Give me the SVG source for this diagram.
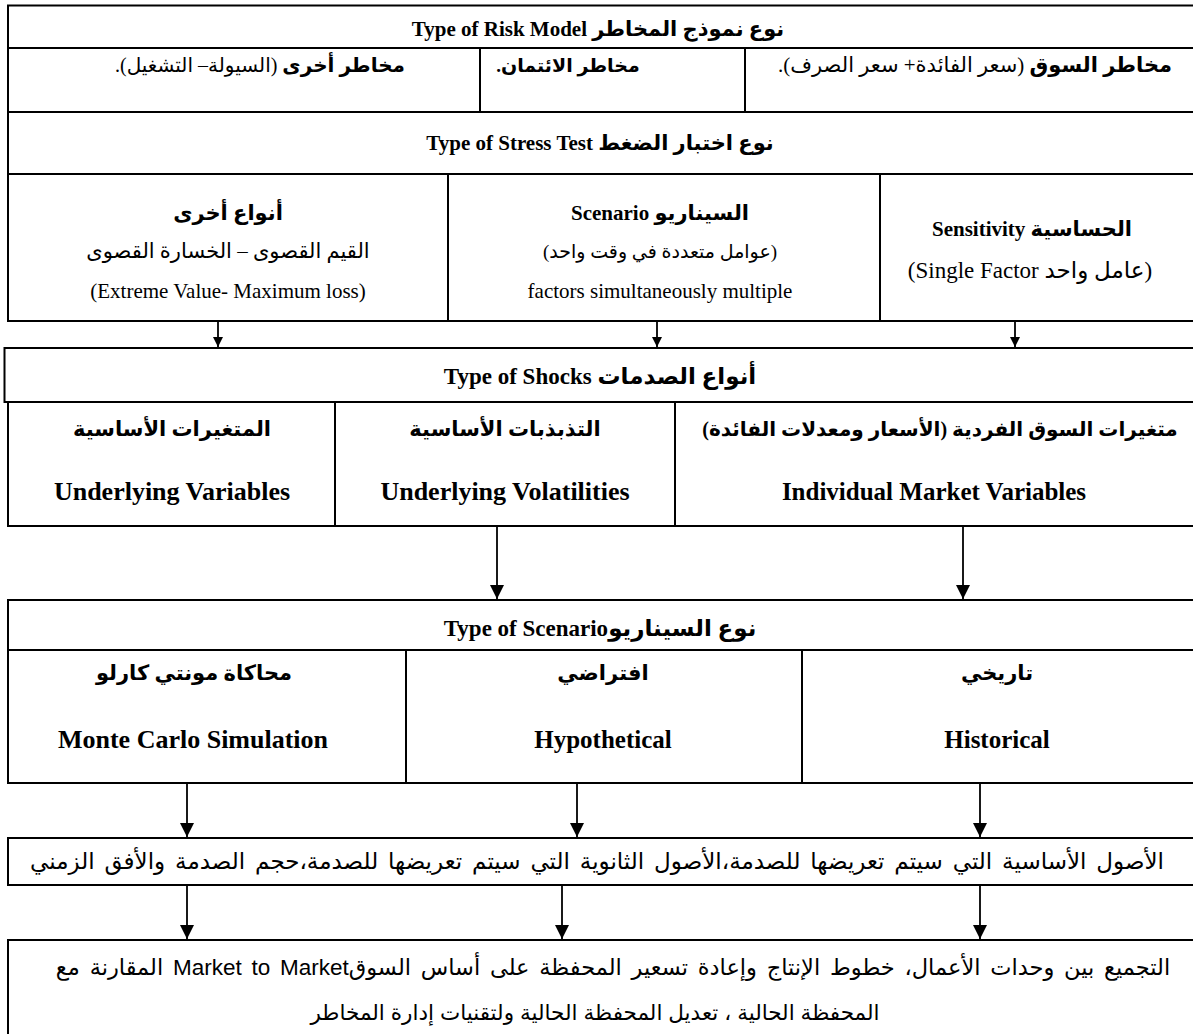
<svg xmlns="http://www.w3.org/2000/svg" width="1193" height="1034" viewBox="0 0 1193 1034">
<style>
.box{fill:#fff;stroke:#000;stroke-width:2}
.ln{stroke:#000;stroke-width:2;fill:none}
.con{stroke:#000;stroke-width:1.8;fill:none}
.sb{font-family:"Liberation Serif","DejaVu Sans",serif;font-weight:bold;fill:#000}
.sr{font-family:"Liberation Serif","DejaVu Sans",serif;font-weight:normal;fill:#000}
.ss{font-family:"Liberation Sans","DejaVu Sans",sans-serif;font-weight:normal;fill:#000}
.rtl{direction:rtl;unicode-bidi:embed}
</style>
<defs>
<marker id="ahS" viewBox="0 0 10 10" refX="10" refY="5" markerWidth="12" markerHeight="10" markerUnits="userSpaceOnUse" orient="auto"><path d="M0,0 L10,5 L0,10 z" fill="#000"/></marker>
<marker id="ahL" viewBox="0 0 10 10" refX="10" refY="5" markerWidth="16" markerHeight="14" markerUnits="userSpaceOnUse" orient="auto"><path d="M0,0 L10,5 L0,10 z" fill="#000"/></marker>
</defs>

<g id="risk-model">
<rect class="box" x="8" y="5.5" width="1200" height="315.5"/>
<line class="ln" x1="8" y1="48" x2="1193" y2="48"/>
<line class="ln" x1="8" y1="112" x2="1193" y2="112"/>
<line class="ln" x1="480" y1="48" x2="480" y2="112"/>
<line class="ln" x1="745" y1="48" x2="745" y2="112"/>
<text class="sb rtl" x="598" y="36" font-size="21" text-anchor="middle">نوع نموذج المخاطر  Type of Risk Model</text>
<text class="sr rtl" x="260" y="72" font-size="20" text-anchor="middle"><tspan class="sb">مخاطر أخرى</tspan> (السيولة– التشغيل).</text>
<text class="sb rtl" x="568" y="72" font-size="19" text-anchor="middle">مخاطر الائتمان.</text>
<text class="sr rtl" x="975" y="72" font-size="21" text-anchor="middle"><tspan class="sb">مخاطر السوق</tspan> (سعر الفائدة+ سعر الصرف).</text>
</g>

<g id="stress-test">
<line class="ln" x1="8" y1="174" x2="1193" y2="174"/>
<line class="ln" x1="448" y1="174" x2="448" y2="321"/>
<line class="ln" x1="880" y1="174" x2="880" y2="321"/>
<text class="sb rtl" x="600" y="150" font-size="21" text-anchor="middle">نوع اختبار الضغط Type of Stress Test</text>
<g id="stress-other">
<text class="sb rtl" x="228" y="220" font-size="21" text-anchor="middle">أنواع أخرى</text>
<text class="sr rtl" x="228" y="258" font-size="21" text-anchor="middle">القيم القصوى – الخسارة القصوى</text>
<text class="sr" x="228" y="298" font-size="21" text-anchor="middle">(Extreme Value- Maximum loss)</text>
</g>
<g id="stress-scenario">
<text class="sb rtl" x="660" y="220" font-size="21" text-anchor="middle">السيناريو Scenario</text>
<text class="sr rtl" x="660" y="258" font-size="19" text-anchor="middle">(عوامل متعددة في وقت واحد)</text>
<text class="sr" x="660" y="298" font-size="21" text-anchor="middle">factors simultaneously multiple</text>
</g>
<g id="stress-sensitivity">
<text class="sb rtl" x="1032" y="236" font-size="21" text-anchor="middle">الحساسية Sensitivity</text>
<text class="sr rtl" x="1030" y="278" font-size="23" text-anchor="middle">(عامل واحد Single Factor)</text>
</g>
</g>

<g id="shocks">
<rect class="box" x="4.5" y="348" width="1200" height="54"/>
<rect class="box" x="8" y="402" width="1200" height="124"/>
<line class="ln" x1="335" y1="402" x2="335" y2="526"/>
<line class="ln" x1="675" y1="402" x2="675" y2="526"/>
<text class="sb rtl" x="600" y="384" font-size="23" text-anchor="middle">أنواع الصدمات Type of Shocks</text>
<g id="shock-underlying-variables">
<text class="sb rtl" x="172" y="436" font-size="21" text-anchor="middle">المتغيرات الأساسية</text>
<text class="sb" x="172" y="500" font-size="26" text-anchor="middle">Underlying Variables</text>
</g>
<g id="shock-underlying-volatilities">
<text class="sb rtl" x="505" y="436" font-size="21" text-anchor="middle">التذبذبات الأساسية</text>
<text class="sb" x="505" y="500" font-size="26" text-anchor="middle">Underlying Volatilities</text>
</g>
<g id="shock-individual-market">
<text class="sb rtl" x="940" y="436" font-size="20" text-anchor="middle">متغيرات السوق الفردية (الأسعار ومعدلات الفائدة)</text>
<text class="sb" x="934" y="500" font-size="25" text-anchor="middle">Individual Market Variables</text>
</g>
</g>

<g id="scenario-type">
<rect class="box" x="8" y="600" width="1200" height="183"/>
<line class="ln" x1="8" y1="650" x2="1193" y2="650"/>
<line class="ln" x1="406" y1="650" x2="406" y2="783"/>
<line class="ln" x1="802" y1="650" x2="802" y2="783"/>
<text class="sb rtl" x="600" y="636" font-size="23" text-anchor="middle">نوع السيناريوType of Scenario</text>
<g id="scenario-monte-carlo">
<text class="sb rtl" x="194" y="680" font-size="21" text-anchor="middle">محاكاة مونتي كارلو</text>
<text class="sb" x="193" y="748" font-size="26" text-anchor="middle">Monte Carlo Simulation</text>
</g>
<g id="scenario-hypothetical">
<text class="sb rtl" x="603" y="680" font-size="21" text-anchor="middle">افتراضي</text>
<text class="sb" x="603" y="748" font-size="25" text-anchor="middle">Hypothetical</text>
</g>
<g id="scenario-historical">
<text class="sb rtl" x="997" y="680" font-size="21" text-anchor="middle">تاريخي</text>
<text class="sb" x="997" y="748" font-size="25" text-anchor="middle">Historical</text>
</g>
</g>

<g id="assets">
<rect class="box" x="8" y="838" width="1200" height="47"/>
<text class="ss rtl" x="597" y="869" font-size="23" word-spacing="3.5" text-anchor="middle">الأصول الأساسية التي سيتم تعريضها للصدمة،الأصول الثانوية التي سيتم تعريضها للصدمة،حجم الصدمة والأفق الزمني</text>
</g>

<g id="aggregation">
<rect class="box" x="8" y="940" width="1200" height="110"/>
<text class="ss rtl" x="613" y="975" font-size="22.5" word-spacing="3.5" text-anchor="middle">التجميع بين وحدات الأعمال، خطوط الإنتاج وإعادة تسعير المحفظة على أساس السوقMarket to Market   المقارنة مع</text>
<text class="ss rtl" x="595" y="1020" font-size="21.5" text-anchor="middle">المحفظة الحالية ، تعديل المحفظة الحالية ولتقنيات إدارة المخاطر</text>
</g>

<g id="connectors">
<line class="con" x1="218" y1="321" x2="218" y2="347" marker-end="url(#ahS)"/>
<line class="con" x1="657" y1="321" x2="657" y2="347" marker-end="url(#ahS)"/>
<line class="con" x1="1015" y1="321" x2="1015" y2="347" marker-end="url(#ahS)"/>
<line class="con" x1="497" y1="526" x2="497" y2="599" marker-end="url(#ahL)"/>
<line class="con" x1="963" y1="526" x2="963" y2="599" marker-end="url(#ahL)"/>
<line class="con" x1="187" y1="783" x2="187" y2="837" marker-end="url(#ahL)"/>
<line class="con" x1="577" y1="783" x2="577" y2="837" marker-end="url(#ahL)"/>
<line class="con" x1="980" y1="783" x2="980" y2="837" marker-end="url(#ahL)"/>
<line class="con" x1="187" y1="885" x2="187" y2="939" marker-end="url(#ahL)"/>
<line class="con" x1="562" y1="885" x2="562" y2="939" marker-end="url(#ahL)"/>
<line class="con" x1="980" y1="885" x2="980" y2="939" marker-end="url(#ahL)"/>
</g>
</svg>
